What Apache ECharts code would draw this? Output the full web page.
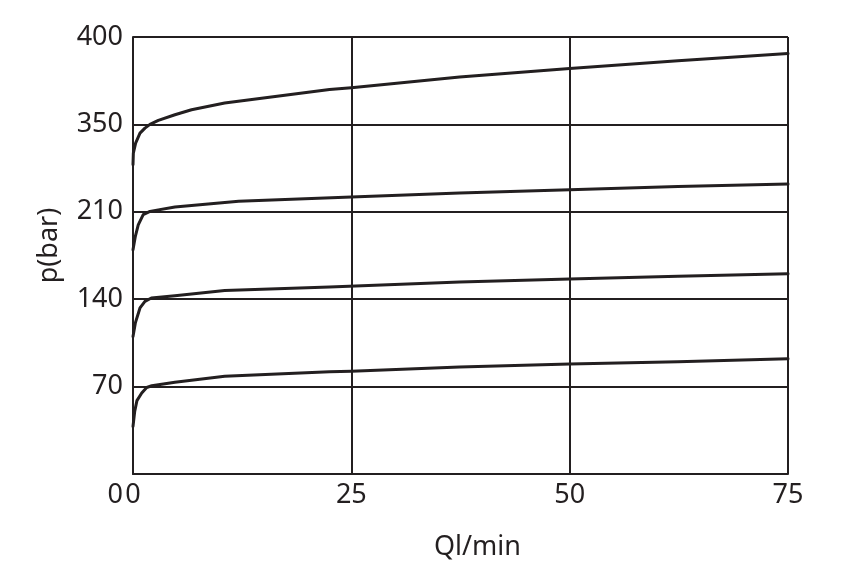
<!DOCTYPE html>
<html>
<head>
<meta charset="utf-8">
<script src="https://cdn.jsdelivr.net/npm/echarts@6/dist/echarts.min.js"></script>
<style>
  html, body { margin: 0; padding: 0; background: #ffffff; }
  #chart { width: 849px; height: 582px; }
</style>
</head>
<body>
<div id="chart"></div>
<script>
// Tick labels of the pressure axis (evenly spaced on the chart)
var yTickLabels = [0, 70, 140, 210, 350, 400];
var xTicks = [0, 25, 50, 75];

// Flow (l/min) and pressure (bar), one pair of arrays per curve
var flow400 = [0, 0.04, 0.3, 0.8, 1.37, 1.94, 2.9, 4.8, 6.7, 10.5, 22.5, 25, 37.4, 50, 62.4, 75];
var pres400 = [285.6, 304, 320, 336, 344, 350, 352.3, 355.5, 358.4, 362.2, 370, 371, 377.1, 382, 386.4, 390.5];

var flow210 = [0, 0.27, 0.6, 1.17, 1.94, 4.8, 12.1, 25, 37.4, 50, 62.4, 75];
var pres210 = [179.6, 190.4, 199.5, 207.7, 210.7, 217.7, 226.8, 233.8, 240.1, 245.4, 250.6, 254.5];

var flow140 = [0, 0.27, 0.8, 1.37, 2.1, 4.8, 10.5, 22.5, 37.4, 50, 62.4, 75];
var pres140 = [110.2, 121, 133, 138.3, 141, 142.8, 147, 149.8, 153.8, 156.2, 158.3, 160.4];

var flow70 = [0, 0.2, 0.45, 1.0, 1.57, 2.15, 4.8, 10.5, 22.5, 25, 37.4, 50, 62.4, 75];
var pres70 = [38.2, 50.4, 58.8, 64.9, 69.3, 70.7, 73.4, 78.2, 81.9, 82.3, 85.7, 88.1, 90, 92.3];

// piecewise mapping of bar values onto the evenly spaced pressure axis
function toAxis(v) {
  for (var i = 0; i < yTickLabels.length - 1; i++) {
    var a = yTickLabels[i], b = yTickLabels[i + 1];
    if (v <= b || i === yTickLabels.length - 2) {
      return i + (v - a) / (b - a);
    }
  }
  return yTickLabels.length - 1;
}
function build(xs, ys) {
  return xs.map(function (x, i) { return [x, toAxis(ys[i])]; });
}

var ink = '#231f20';
var font = 'Noto Sans';

var chart = echarts.init(document.getElementById('chart'), null, { renderer: 'canvas' });

function curve(name, xs, ys) {
  return {
    name: name,
    type: 'line',
    data: build(xs, ys),
    showSymbol: false,
    smooth: false,
    lineStyle: { color: ink, width: 3, join: 'round', cap: 'round' },
    itemStyle: { color: ink },
    z: 5
  };
}

chart.setOption({
  animation: false,
  backgroundColor: '#ffffff',
  grid: { left: 133, right: 61, top: 37, bottom: 108, containLabel: false },
  xAxis: {
    type: 'value',
    min: 0, max: 75, interval: 25,
    name: 'Ql/min',
    nameLocation: 'middle',
    nameGap: 60,
    nameTextStyle: { color: ink, fontFamily: font, fontSize: 27, padding: [0, 0, 0, 34] },
    axisLine: { show: true, lineStyle: { color: ink, width: 2 } },
    axisTick: { show: false },
    axisLabel: {
      color: ink, fontFamily: font, fontSize: 27, margin: 8,
      formatter: function (v) { return String(v); }
    },
    splitLine: { show: true, lineStyle: { color: ink, width: 2 } }
  },
  yAxis: {
    type: 'value',
    min: 0, max: yTickLabels.length - 1, interval: 1,
    name: 'p(bar)',
    nameLocation: 'middle',
    nameGap: 70,
    nameRotate: 90,
    nameTextStyle: { color: ink, fontFamily: font, fontSize: 27, padding: [0, 0, 0, 20] },
    axisLine: { show: true, lineStyle: { color: ink, width: 2 } },
    axisTick: { show: false },
    axisLabel: {
      color: ink, fontFamily: font, fontSize: 27, margin: 10,
      formatter: function (v) {
        var lab = yTickLabels[Math.round(v)];
        if (lab === 0) { return '{z|0}'; }
        return String(lab);
      },
      rich: {
        z: { color: ink, fontFamily: font, fontSize: 27, padding: [42, 0, 0, 0] }
      }
    },
    splitLine: { show: true, lineStyle: { color: ink, width: 2 } }
  },
  series: [
    curve('400', flow400, pres400),
    curve('210', flow210, pres210),
    curve('140', flow140, pres140),
    curve('70', flow70, pres70)
  ]
});
</script>
</body>
</html>
